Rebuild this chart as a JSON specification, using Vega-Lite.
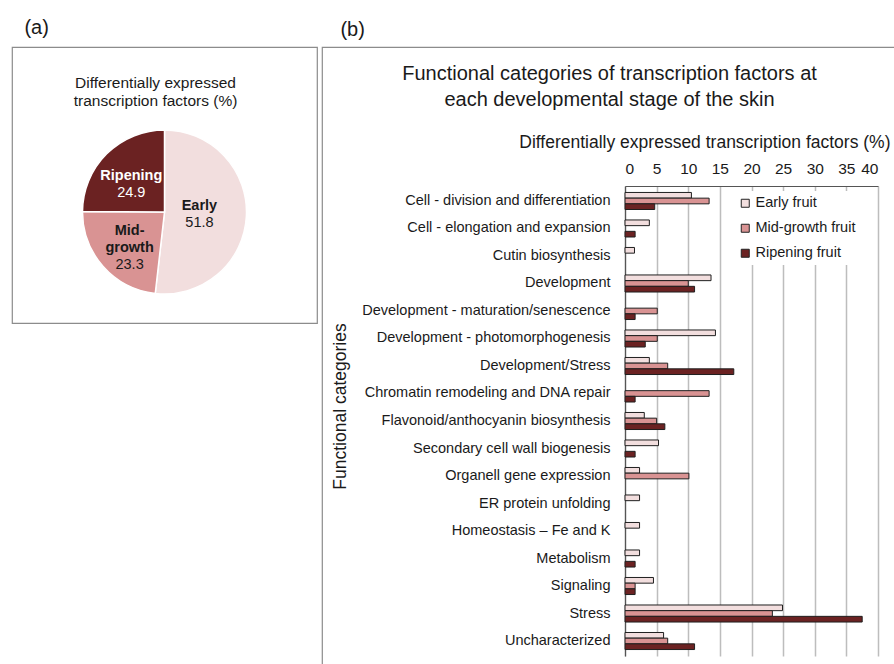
{
  "$schema": "https://vega.github.io/schema/vega-lite/v6.json",
  "padding": {"left": 11, "top": 18, "right": 0, "bottom": 0},
  "background": "white",
  "config": {
    "font": "Liberation Sans",
    "view": {"stroke": "#8c8c8c", "strokeWidth": 1.2},
    "concat": {"spacing": 3},
    "title": {"color": "#1a1a1a", "fontWeight": "normal"}
  },
  "datasets": {
    "pie": [
      {"stage": "Early", "label": "Early", "pct": 51.8, "order": 1},
      {"stage": "Mid-growth", "label": ["Mid-", "growth"], "pct": 23.3, "order": 2},
      {"stage": "Ripening", "label": "Ripening", "pct": 24.9, "order": 3}
    ],
    "bars": [
      {"category": "Cell - division and differentiation", "stage": "Early fruit", "value": 10.5},
      {"category": "Cell - division and differentiation", "stage": "Mid-growth fruit", "value": 13.3},
      {"category": "Cell - division and differentiation", "stage": "Ripening fruit", "value": 4.7},
      {"category": "Cell - elongation and expansion", "stage": "Early fruit", "value": 3.85},
      {"category": "Cell - elongation and expansion", "stage": "Ripening fruit", "value": 1.6},
      {"category": "Cutin biosynthesis", "stage": "Early fruit", "value": 1.5},
      {"category": "Development", "stage": "Early fruit", "value": 13.6},
      {"category": "Development", "stage": "Mid-growth fruit", "value": 10.0},
      {"category": "Development", "stage": "Ripening fruit", "value": 11.0},
      {"category": "Development - maturation/senescence", "stage": "Mid-growth fruit", "value": 5.1},
      {"category": "Development - maturation/senescence", "stage": "Ripening fruit", "value": 1.6},
      {"category": "Development - photomorphogenesis", "stage": "Early fruit", "value": 14.3},
      {"category": "Development - photomorphogenesis", "stage": "Mid-growth fruit", "value": 5.1},
      {"category": "Development - photomorphogenesis", "stage": "Ripening fruit", "value": 3.2},
      {"category": "Development/Stress", "stage": "Early fruit", "value": 3.85},
      {"category": "Development/Stress", "stage": "Mid-growth fruit", "value": 6.75},
      {"category": "Development/Stress", "stage": "Ripening fruit", "value": 17.2},
      {"category": "Chromatin remodeling and DNA repair", "stage": "Mid-growth fruit", "value": 13.3},
      {"category": "Chromatin remodeling and DNA repair", "stage": "Ripening fruit", "value": 1.6},
      {"category": "Flavonoid/anthocyanin biosynthesis", "stage": "Early fruit", "value": 3.05},
      {"category": "Flavonoid/anthocyanin biosynthesis", "stage": "Mid-growth fruit", "value": 5.0},
      {"category": "Flavonoid/anthocyanin biosynthesis", "stage": "Ripening fruit", "value": 6.3},
      {"category": "Secondary cell wall biogenesis", "stage": "Early fruit", "value": 5.3},
      {"category": "Secondary cell wall biogenesis", "stage": "Ripening fruit", "value": 1.6},
      {"category": "Organell gene expression", "stage": "Early fruit", "value": 2.3},
      {"category": "Organell gene expression", "stage": "Mid-growth fruit", "value": 10.1},
      {"category": "ER protein unfolding", "stage": "Early fruit", "value": 2.3},
      {"category": "Homeostasis – Fe and K", "stage": "Early fruit", "value": 2.3},
      {"category": "Metabolism", "stage": "Early fruit", "value": 2.3},
      {"category": "Metabolism", "stage": "Ripening fruit", "value": 1.6},
      {"category": "Signaling", "stage": "Early fruit", "value": 4.5},
      {"category": "Signaling", "stage": "Mid-growth fruit", "value": 1.6},
      {"category": "Signaling", "stage": "Ripening fruit", "value": 1.6},
      {"category": "Stress", "stage": "Early fruit", "value": 24.9},
      {"category": "Stress", "stage": "Mid-growth fruit", "value": 23.3},
      {"category": "Stress", "stage": "Ripening fruit", "value": 37.5},
      {"category": "Uncharacterized", "stage": "Early fruit", "value": 6.1},
      {"category": "Uncharacterized", "stage": "Mid-growth fruit", "value": 6.75},
      {"category": "Uncharacterized", "stage": "Ripening fruit", "value": 11.0}
    ]
  },
  "resolve": {"scale": {"color": "independent"}, "legend": {"color": "independent"}},
  "hconcat": [
    {
      "title": {"text": "(a)", "anchor": "start", "fontSize": 20, "offset": 8, "dx": 13},
      "resolve": {"scale": {"color": "independent"}, "legend": {"color": "independent"}},
      "vconcat": [
        {
          "width": 305,
          "height": 276,
          "view": {"stroke": "#8c8c8c", "strokeWidth": 1.2},
          "title": {
            "text": ["Differentially expressed", "transcription factors (%)"],
            "fontSize": 15.5,
            "lineHeight": 18,
            "offset": -62,
            "anchor": "middle",
            "dx": -9
          },
          "data": {"name": "pie"},
          "encoding": {
            "theta": {"field": "pct", "type": "quantitative", "stack": true},
            "order": {"field": "order", "type": "quantitative"},
            "color": {
              "field": "stage",
              "type": "nominal",
              "scale": {"domain": ["Early", "Mid-growth", "Ripening"], "range": ["#f2dede", "#d99393", "#6b2222"]},
              "legend": null
            }
          },
          "layer": [
            {"mark": {"type": "arc", "outerRadius": 82, "stroke": "white", "strokeWidth": 1.5, "yOffset": 27}},
            {
              "mark": {"type": "text", "radius": 40, "yOffset": 27, "dx": -5, "dy": -15, "baseline": "top", "fontWeight": "bold", "fontSize": 14.5, "lineHeight": 17},
              "encoding": {
                "text": {"field": "label"},
                "color": {"condition": {"test": "datum.stage === 'Ripening'", "value": "white"}, "value": "#1a1a1a"}
              }
            },
            {
              "mark": {"type": "text", "radius": 40, "yOffset": 27, "dx": -5, "dy": 2, "baseline": "top", "fontSize": 14.5},
              "encoding": {
                "text": {"condition": {"test": "datum.stage === 'Mid-growth'", "value": ""}, "field": "pct", "type": "quantitative", "format": ".1f"},
                "color": {"condition": {"test": "datum.stage === 'Ripening'", "value": "white"}, "value": "#1a1a1a"}
              }
            },
            {
              "mark": {"type": "text", "radius": 40, "yOffset": 27, "dx": -5, "dy": 19, "baseline": "top", "fontSize": 14.5},
              "encoding": {
                "text": {"condition": {"test": "datum.stage === 'Mid-growth'", "field": "pct", "type": "quantitative", "format": ".1f"}, "value": ""},
                "color": {"value": "#1a1a1a"}
              }
            }
          ]
        }
      ]
    },
    {
      "title": {"text": "(b)", "anchor": "start", "fontSize": 20, "offset": 6, "dx": 19},
      "resolve": {"scale": {"color": "independent"}, "legend": {"color": "independent"}},
      "vconcat": [
        {
          "width": 575,
          "height": 625,
          "title": {
            "text": ["Functional categories of transcription factors at", "each developmental stage of the skin"],
            "fontSize": 20,
            "lineHeight": 26,
            "offset": -63,
            "anchor": "middle",
            "dx": 0
          },
          "data": {"name": "bars"},
          "mark": {"type": "bar", "stroke": "#1f1f1f", "strokeWidth": 1},
          "encoding": {
            "y": {
              "field": "category",
              "type": "nominal",
              "sort": null,
              "scale": {"range": [139, 609], "paddingInner": 0.38, "paddingOuter": 0.235},
              "axis": {
                "title": "Functional categories",
                "offset": -303,
                "labelFontSize": 14.5,
                "labelColor": "#1a1a1a",
                "labelPadding": 15,
                "labelLimit": 320,
                "ticks": false,
                "domainColor": "#555555",
                "domainWidth": 1.2,
                "titleFontSize": 17.5,
                "titleFontWeight": "normal",
                "titleColor": "#1a1a1a",
                "titleX": -285,
                "titleY": 359,
                "titleAngle": -90,
                "titleBaseline": "middle",
                "titleAlign": "center"
              }
            },
            "yOffset": {
              "field": "stage",
              "type": "nominal",
              "sort": ["Early fruit", "Mid-growth fruit", "Ripening fruit"],
              "scale": {"paddingInner": 0, "paddingOuter": 0}
            },
            "x": {
              "field": "value",
              "type": "quantitative",
              "scale": {"domain": [0, 40], "range": [303, 556], "nice": false},
              "axis": {
                "orient": "top",
                "offset": -139,
                "values": [0, 5, 10, 15, 20, 25, 30, 35, 40],
                "grid": true,
                "gridColor": "#bdbdbd",
                "gridWidth": 1.5,
                "ticks": false,
                "labelPadding": 10,
                "labelFontSize": 15.5,
                "labelColor": "#1a1a1a",
                "domainColor": "#555555",
                "domainWidth": 1.2,
                "title": "Differentially expressed transcription factors (%)",
                "titleFontSize": 17.5,
                "titleFontWeight": "normal",
                "titleColor": "#1a1a1a",
                "titleX": 568,
                "titleY": -44,
                "titleAlign": "right",
                "titleBaseline": "middle"
              }
            },
            "color": {
              "field": "stage",
              "type": "nominal",
              "scale": {"domain": ["Early fruit", "Mid-growth fruit", "Ripening fruit"], "range": ["#f2dede", "#d99393", "#6b2222"]},
              "legend": {
                "title": null,
                "orient": "none",
                "legendX": 411,
                "legendY": 144,
                "padding": 5,
                "fillColor": "white",
                "symbolType": "square",
                "symbolSize": 64,
                "symbolStrokeColor": "#222222",
                "symbolStrokeWidth": 1,
                "labelFontSize": 14.5,
                "labelColor": "#1a1a1a",
                "labelOffset": 3,
                "rowPadding": 10
              }
            }
          }
        }
      ]
    }
  ]
}
